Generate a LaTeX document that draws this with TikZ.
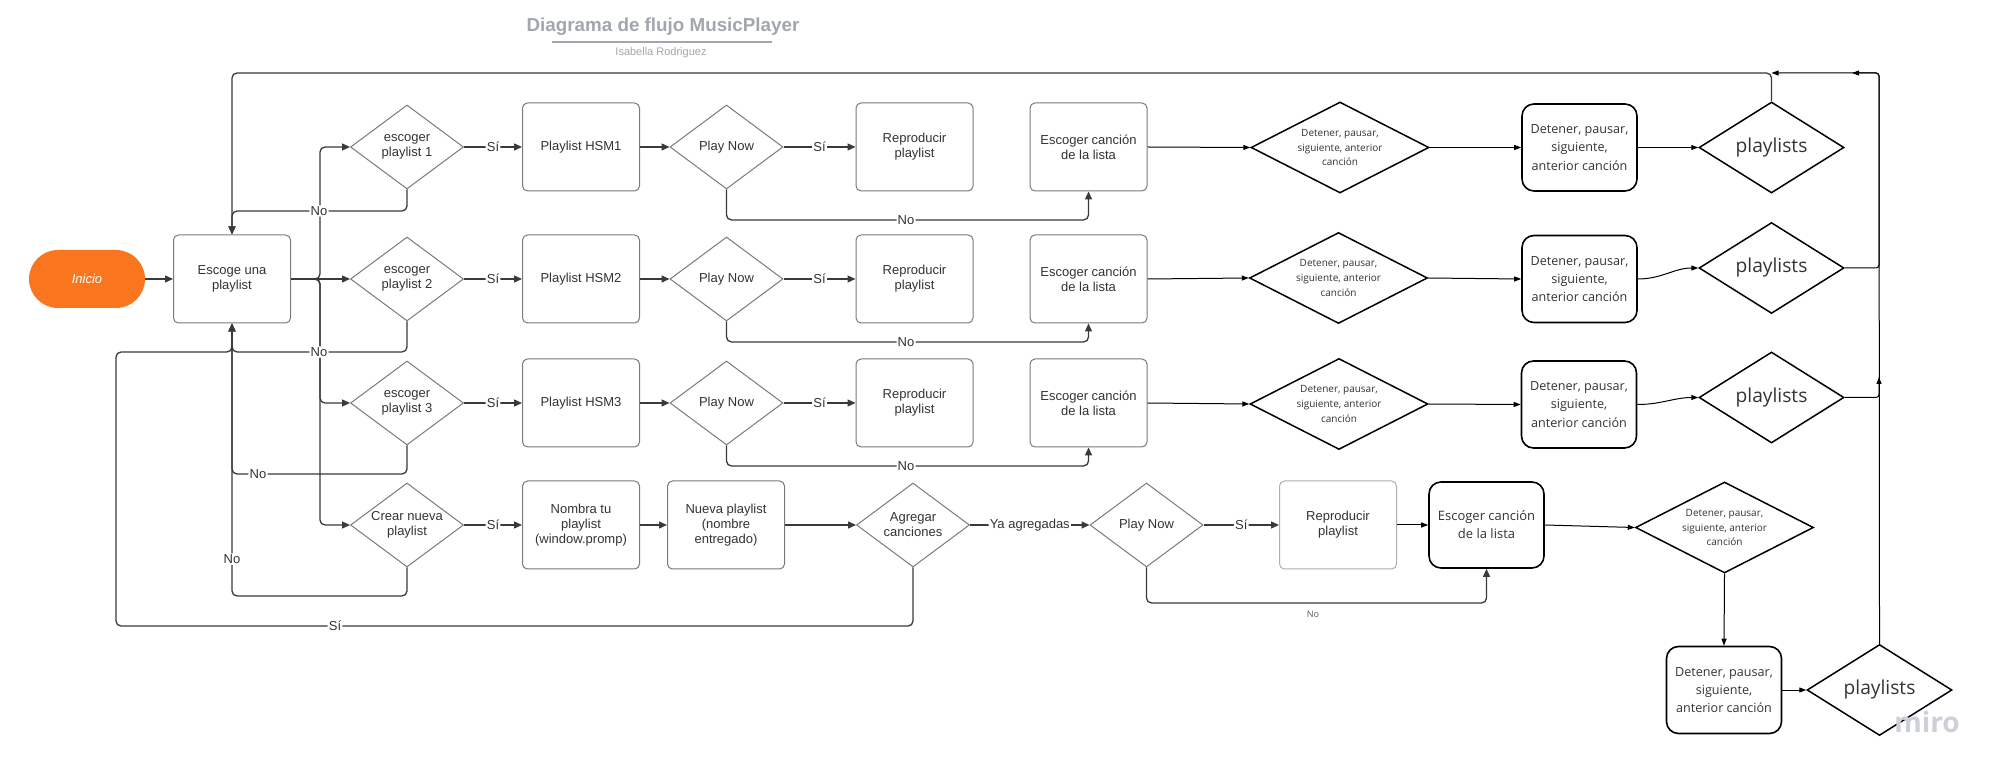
\documentclass[tikz,border=0pt]{standalone}
\usepackage{fontspec}
\setmainfont{Liberation Sans}
\newfontfamily\osans{Open Sans}
\usetikzlibrary{shapes.geometric,arrows.meta}
\definecolor{lucidline}{HTML}{3A3A3A}
\definecolor{lucidborder}{HTML}{7A7A7A}
\definecolor{lucidtext}{HTML}{333333}
\definecolor{inicioorange}{HTML}{F9761E}
\definecolor{titlegray}{HTML}{A2A6AE}
\definecolor{mirotext}{HTML}{333333}
\definecolor{watermark}{HTML}{CDCFDA}
\newcommand\lucidfont{\fontsize{6.5}{7.5}\selectfont}
\newcommand\detdiafont{\osans\fontsize{5.0}{7.3}\selectfont}
\newcommand\detboxfont{\osans\fontsize{6.3}{9.1}\selectfont}
\newcommand\plfont{\osans\fontsize{9.6}{11}\selectfont}
\newcommand\escfont{\osans\fontsize{6.5}{9}\selectfont}
\begin{document}
\begin{tikzpicture}[x=0.5pt,y=-0.5pt,
  lbox/.style={draw=lucidborder, line width=0.5pt, rounded corners=2.5pt, minimum width=58.5pt, minimum height=44pt, align=center, font=\lucidfont, text=lucidtext, inner sep=1pt},
  ldia/.style={diamond, draw=lucidborder, line width=0.5pt, minimum width=56.5pt, minimum height=42pt, shape aspect=1.345, align=center, font=\lucidfont, text=lucidtext, inner sep=0pt},
  mdia/.style={diamond, draw=black, line width=0.75pt, minimum width=89pt, minimum height=45.5pt, shape aspect=1.95, align=center, font=\detdiafont, text=mirotext, inner sep=0pt},
  pdia/.style={diamond, draw=black, line width=0.75pt, minimum width=72.5pt, minimum height=45.5pt, shape aspect=1.6, font=\plfont, text=mirotext, inner sep=0pt},
  mbox/.style={draw=black, line width=0.8pt, rounded corners=6pt, minimum width=57.5pt, minimum height=43.5pt, align=center, font=\detboxfont, text=mirotext, inner sep=1pt},
  lcon/.style={draw=lucidline, line width=0.65pt, rounded corners=2.5pt, -{Triangle[length=4pt,width=3.5pt]}},
  mcon/.style={draw=black, line width=0.5pt, -{Triangle[length=3.5pt,width=2.5pt]}},
  lab/.style={fill=white, inner sep=0.6pt, font=\lucidfont, text=lucidtext},
]
\fill[white] (0,0) rectangle (2005,779);
\useasboundingbox (0,0) rectangle (2005,779);

% title
\node[font=\fontsize{9.4}{11}\selectfont\bfseries, text=titlegray] (title) at (663,27) {Diagrama de flujo MusicPlayer};
\coordinate (ulA) at (552,42);
\coordinate (ulB) at (772,42);
\draw[titlegray, line width=1pt] (ulA) -- (ulB);
\node[font=\fontsize{5.5}{6.5}\selectfont, text=titlegray] (author) at (661,53) {Isabella Rodriguez};

% left part
\node[fill=inicioorange, rounded corners=14.5pt, minimum width=58pt, minimum height=29pt, text=white, font=\lucidfont\itshape] (inicio) at (87,279) {Inicio};
\node[lbox] (escoge) at (232,279) {Escoge una\\playlist};

\node[ldia] (d1) at (407,147) {escoger\\playlist 1};
\node[ldia] (d2) at (407,279) {escoger\\playlist 2};
\node[ldia] (d3) at (407,403) {escoger\\playlist 3};
\node[ldia] (d4) at (407,525) {Crear nueva\\playlist};

\node[lbox] (h1) at (581,147) {Playlist HSM1};
\node[lbox] (h2) at (581,279) {Playlist HSM2};
\node[lbox] (h3) at (581,403) {Playlist HSM3};
\node[lbox] (nombra) at (581,525) {Nombra tu\\playlist\\(window.promp)};

\node[ldia] (p1) at (726.5,147) {Play Now};
\node[ldia] (p2) at (726.5,279) {Play Now};
\node[ldia] (p3) at (726.5,403) {Play Now};
\node[lbox] (nueva) at (726,525) {Nueva playlist\\(nombre\\entregado)};

\node[lbox] (r1) at (914.5,147) {Reproducir\\playlist};
\node[lbox] (r2) at (914.5,279) {Reproducir\\playlist};
\node[lbox] (r3) at (914.5,403) {Reproducir\\playlist};
\node[ldia] (agregar) at (913,525) {Agregar\\canciones};

\node[lbox] (e1) at (1088.5,147) {Escoger canción\\de la lista};
\node[lbox] (e2) at (1088.5,279) {Escoger canción\\de la lista};
\node[lbox] (e3) at (1088.5,403) {Escoger canción\\de la lista};
\node[ldia] (pn4) at (1146.5,525) {Play Now};

\node[lbox, draw=lucidborder!60] (rep4) at (1338,525) {Reproducir\\playlist};
\node[mbox, font=\escfont, minimum height=43pt] (esc4) at (1486.5,525) {Escoger canción\\de la lista};

% miro part
\node[mdia] (dt1) at (1340,147.5) {Detener, pausar,\\siguiente, anterior\\canción};
\node[mdia] (dt2) at (1338.5,278) {Detener, pausar,\\siguiente, anterior\\canción};
\node[mdia] (dt3) at (1339,404) {Detener, pausar,\\siguiente, anterior\\canción};
\node[mdia] (dt4) at (1724.5,527.5) {Detener, pausar,\\siguiente, anterior\\canción};

\node[mbox] (bx1) at (1579.5,147.5) {Detener, pausar,\\siguiente,\\anterior canción};
\node[mbox] (bx2) at (1579.5,279) {Detener, pausar,\\siguiente,\\anterior canción};
\node[mbox] (bx3) at (1579,404.5) {Detener, pausar,\\siguiente,\\anterior canción};
\node[mbox] (bx5) at (1724,690) {Detener, pausar,\\siguiente,\\anterior canción};

\node[pdia] (pl1) at (1771.5,147.5) {playlists};
\node[pdia] (pl2) at (1771.5,268) {playlists};
\node[pdia] (pl3) at (1771.5,397.5) {playlists};
\node[pdia] (pl5) at (1879.5,690) {playlists};

% helper coordinates
\coordinate (topL) at (232,73);
\coordinate (topJ) at (1771.5,73);
\coordinate (topR) at (1879,73);
\coordinate (arrR) at (1852,73);
\coordinate (vjoin) at (1879,377);

% connectors left
\draw[lcon] (inicio) -- (escoge);
\draw[lcon] (escoge.east) -| (320,147) -- (d1.west);
\draw[lcon] (escoge.east) -- (d2.west);
\draw[lcon] (escoge.east) -| (320,403) -- (d3.west);
\draw[lcon] (escoge.east) -| (320,525) -- (d4.west);

\draw[lcon] (d1.south) |- (319,211) node[lab]{No} -| (escoge.north);
\draw[lcon] (d2.south) |- (319,352) node[lab]{No} -| (escoge.south);
\draw[lcon] (d3.south) |- (258,474) node[lab]{No} -| (escoge.south);
\draw[lcon] (d4.south) |- (232,596) -- node[lab,pos=0.135]{No} (escoge.south);
\draw[lcon] (agregar.south) |- (335,626) node[lab]{Sí} -| (116,352) -| (escoge.south);
\draw[lcon] (pl1.north) |- (topL) -- (escoge.north);

% rows 1-3
\foreach \i in {1,2,3}{
  \draw[lcon] (d\i.east) -- node[lab]{Sí} (h\i.west);
  \draw[lcon] (h\i.east) -- (p\i.west);
  \draw[lcon] (p\i.east) -- node[lab]{Sí} (r\i.west);
  \draw[mcon] (e\i.east) -- (dt\i.west);
  \draw[mcon] (dt\i.east) -- (bx\i.west);
}
\draw[lcon] (p1.south) |- (906,220) node[lab]{No} -| (e1.south);
\draw[lcon] (p2.south) |- (906,342) node[lab]{No} -| (e2.south);
\draw[lcon] (p3.south) |- (906,466) node[lab]{No} -| (e3.south);

\draw[mcon] (bx1.east) -- (pl1.west);
\draw[mcon] (bx2.east) to[out=0,in=180] (pl2.west);
\draw[mcon] (bx3.east) to[out=0,in=180] (pl3.west);

% right return lines
\draw[mcon, rounded corners=1.5pt] (pl2.east) -| (topR) -- (topJ);
\draw[mcon, rounded corners=1.5pt] (pl5.north) -- (topR) -- (arrR);
\draw[mcon, rounded corners=1.5pt] (pl3.east) -| (vjoin);

% row 4
\draw[lcon] (d4.east) -- node[lab]{Sí} (nombra.west);
\draw[lcon] (nombra.east) -- (nueva.west);
\draw[lcon] (nueva.east) -- (agregar.west);
\draw[lcon] (agregar.east) -- node[lab]{Ya agregadas} (pn4.west);
\draw[lcon] (pn4.east) -- node[lab]{Sí} (rep4.west);
\draw[mcon] (rep4.east) -- (esc4.west);
\draw[lcon] (pn4.south) |- (1400,603) -| (esc4.south);
\node[font=\osans\fontsize{4.5}{5}\selectfont, text=black!65] (no4) at (1313,614) {No};
\draw[mcon] (esc4.east) -- (dt4.west);
\draw[mcon] (dt4.south) -- (bx5.north);
\draw[mcon] (bx5.east) -- (pl5.west);

% watermark
\node[font=\osans\bfseries\fontsize{14}{16}\selectfont, text=watermark] (miro) at (1927,722) {miro};
\end{tikzpicture}
\end{document}
